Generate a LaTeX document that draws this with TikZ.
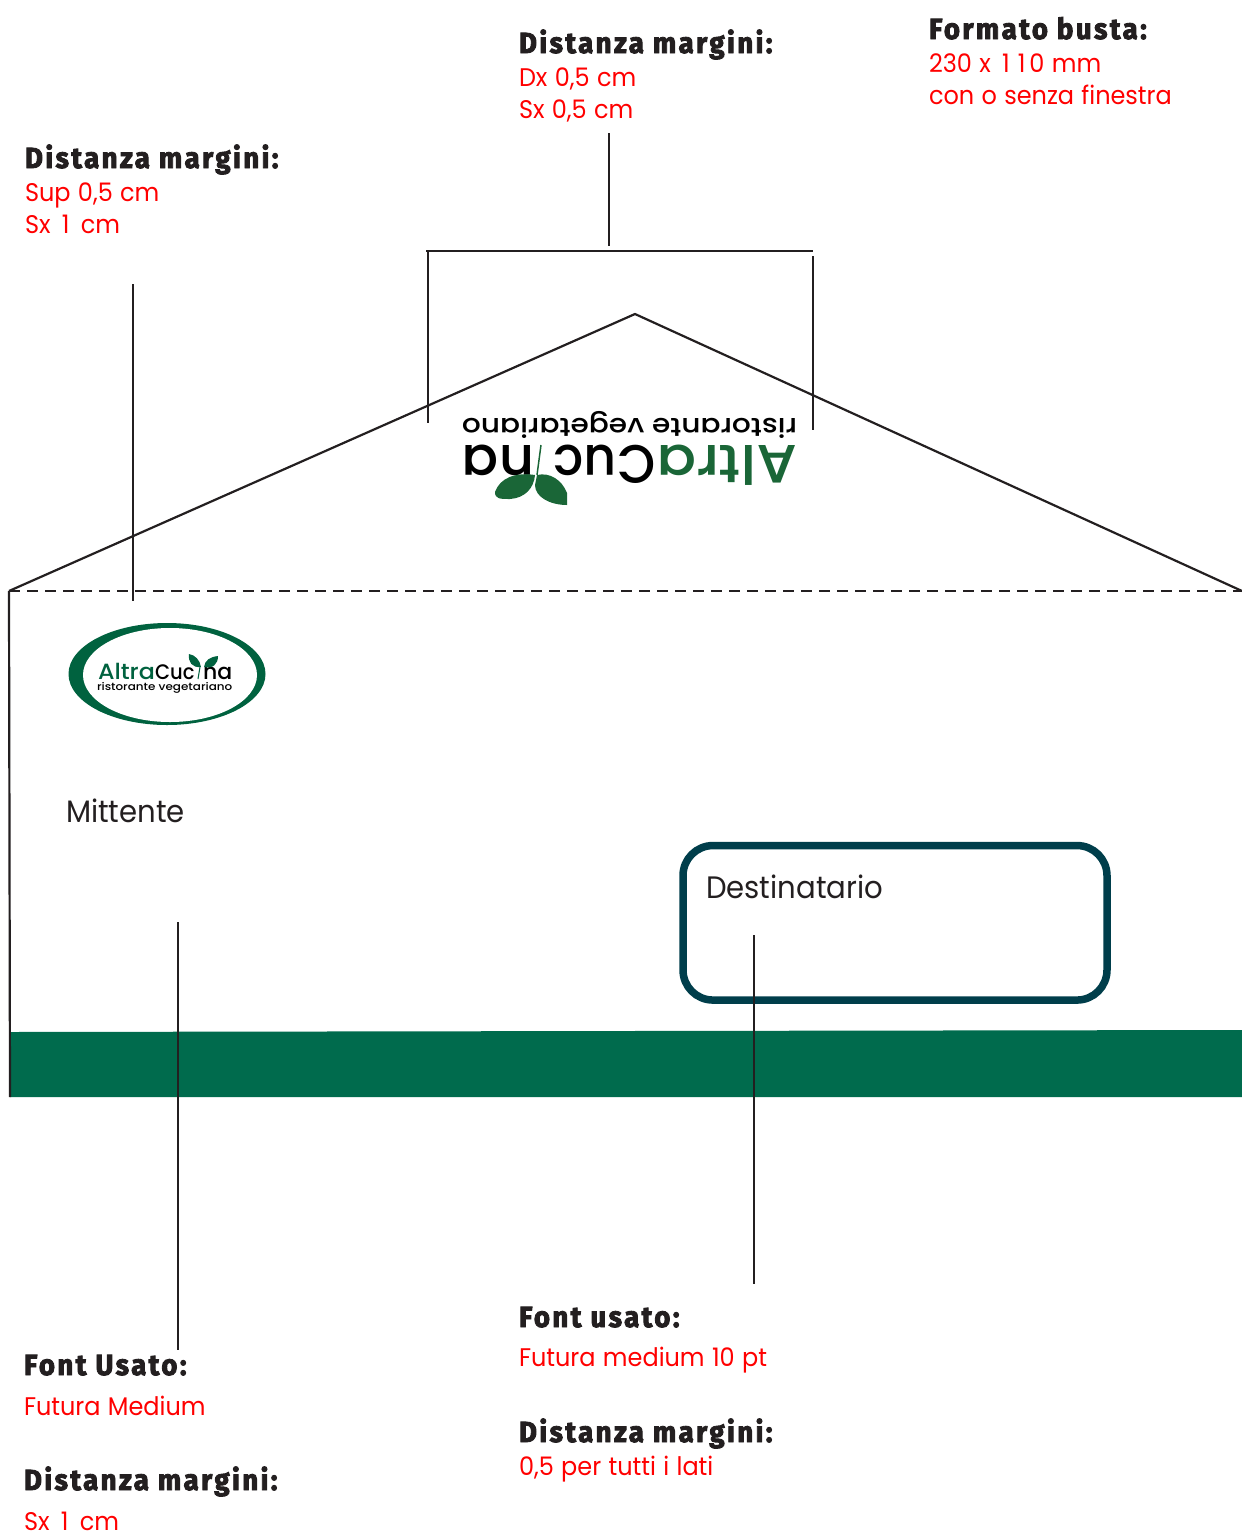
\documentclass[tikz,border=0pt]{standalone}
\usepackage{fontspec}
\usepackage{tikz}
\setmainfont{Poppins}
\newfontfamily\headfont[FakeStretch=0.95,FakeBold=3,LetterSpace=8.5]{Fira Sans Bold}
\newfontfamily\bodyfont[FakeStretch=0.94,WordSpace=1.15,Kerning=Off]{Poppins}
\newfontfamily\logofont{Poppins Medium}
\newfontfamily\logonarrow[FakeStretch=0.93]{Poppins Medium}
\newfontfamily\logowide[FakeStretch=1.08]{Poppins Medium}
\newfontfamily\logosub[FakeStretch=1.14]{Poppins Medium}
\newcommand{\onedigit}{\hspace{4pt}1\hspace{4pt}}
\definecolor{inkdark}{HTML}{231F20}
\definecolor{bandgreen}{HTML}{006B4D}
\definecolor{ovalgreen}{HTML}{00623F}
\definecolor{leafgreen}{HTML}{1A6637}
\definecolor{windowblue}{HTML}{003E4B}

\begin{document}
\begin{tikzpicture}[x=1pt,y=-1pt,inner sep=0pt,outer sep=0pt,
  leader/.style={draw=inkdark,line width=2.2pt},
  head node/.style={anchor=base west,text=inkdark,font=\headfont\fontsize{29}{30}\selectfont},
  red node/.style={anchor=base west,text=red,font=\bodyfont\fontsize{25.5}{30}\selectfont},
  plain node/.style={anchor=base west,text=inkdark,font=\bodyfont\fontsize{31}{34}\selectfont},
  leaf/.style={fill=leafgreen,draw=none}]
  \useasboundingbox (0,0) rectangle (1242,1532);

  % envelope
  \coordinate (flapL) at (9,591);
  \coordinate (flapT) at (635,314);
  \coordinate (flapR) at (1242,591);
  \coordinate (edgeB) at (10,1097);
  \fill[bandgreen] (10,1032) -- (1242,1030) -- (1242,1097) -- (edgeB) -- cycle;
  \draw[leader] (flapL) -- (flapT) -- (flapR);
  \draw[leader,dash pattern=on 11pt off 7pt] (flapL) -- (flapR);
  \draw[leader] (flapL) -- (edgeB);
  \node[draw=windowblue,line width=7.5pt,rounded corners=30pt,minimum width=424pt,minimum height=154.5pt] (window) at (895,922.8) {};

  % logo on the flap
  \node[rotate=180,anchor=base west,text=black,font=\logosub\fontsize{26}{27}\selectfont] (flapsub) at (797,418) {ristorante vegetariano};
  \node[rotate=180,anchor=base west,text=leafgreen,font=\logowide\fontsize{54}{56}\selectfont] (flapaltra) at (797,445) {Altra};
  \node[rotate=180,anchor=base west,text=black,font=\logonarrow\fontsize{54}{56}\selectfont] (flapcuc) at (655,445) {Cuc};
  \node[rotate=180,anchor=base west,text=black,font=\logofont\fontsize{54}{56}\selectfont] (flapna) at (534,445) {na};
  \fill[leaf] (535,475) .. controls (515,472) and (500,478) .. (495,492) .. controls (495,499) and (500,499) .. (510,499) .. controls (525,498) and (534,488) .. (535,475) -- cycle;
  \fill[leaf] (537,475) .. controls (550,472) and (562,480) .. (567,493) -- (567,505) .. controls (550,505) and (535,497) .. (535,485) -- cycle;
  \draw[leafgreen,line width=1.5pt] (541,445) -- (537,475);

  % logo on the front
  \fill[ovalgreen] (167,674) ellipse [x radius=98.5,y radius=51];
  \fill[white] (170,675) ellipse [x radius=87,y radius=47];
  \node[anchor=base west,text=ovalgreen,font=\logowide\fontsize{22}{23}\selectfont] (frontaltra) at (98,679) {Altra};
  \node[anchor=base west,text=black,font=\logonarrow\fontsize{21}{23}\selectfont] (frontcuc) at (155,679) {Cuc};
  \node[anchor=base west,text=black,font=\logofont\fontsize{22}{23}\selectfont] (frontna) at (203,679) {na};
  \node[anchor=base west,text=black,font=\logosub\fontsize{10.5}{11}\selectfont] (frontsub) at (97,690) {ristorante vegetariano};
  \fill[ovalgreen] (201,667) .. controls (200,660) and (195,655) .. (189,654) .. controls (188,662) and (192,668) .. (201,667) -- cycle;
  \fill[ovalgreen] (204,667) .. controls (205,660) and (210,657) .. (218,656) .. controls (218,664) and (213,669) .. (204,667) -- cycle;
  \draw[ovalgreen,line width=1pt] (200,667) -- (198,679);

  % labels on the envelope
  \node[plain node] (mittente) at (66,822) {Mittente};
  \node[plain node] (destinatario) at (706,898) {Destinatario};

  % notes
  \node[head node] (formato) at (929,39) {Formato busta:};
  \node[red node] (formatoa) at (929,72) {230 x \onedigit\onedigit{}0 mm};
  \node[red node] (formatob) at (929,104) {con o senza finestra};
  \node[head node] (topdist) at (519,53) {Distanza margini:};
  \node[red node] (topdista) at (519,86) {Dx 0,5 cm};
  \node[red node] (topdistb) at (519,118) {Sx 0,5 cm};
  \node[head node] (leftdist) at (25,168) {Distanza margini:};
  \node[red node] (leftdista) at (25,201) {Sup 0,5 cm};
  \node[red node] (leftdistb) at (25,233) {Sx \onedigit{} cm};
  \node[head node] (destfont) at (519,1327) {Font usato:};
  \node[red node] (destfonta) at (519,1366) {Futura medium 10 pt};
  \node[head node] (destdist) at (519,1442) {Distanza margini:};
  \node[red node] (destdista) at (519,1475) {0,5 per tutti i lati};
  \node[head node] (mittfont) at (24,1375) {Font Usato:};
  \node[red node] (mittfonta) at (24,1415) {Futura Medium};
  \node[head node] (mittdist) at (24,1490) {Distanza margini:};
  \node[red node] (mittdista) at (24,1530) {Sx \onedigit{} cm};

  % leaders
  \coordinate (leftup) at (133,284);
  \coordinate (leftdown) at (133,601);
  \coordinate (topup) at (609,133);
  \coordinate (topdown) at (609,246);
  \coordinate (bracketL) at (426,251);
  \coordinate (bracketR) at (813,251);
  \coordinate (legLa) at (428,251);
  \coordinate (legLb) at (428,423);
  \coordinate (legRa) at (813,256);
  \coordinate (legRb) at (813,430);
  \coordinate (mittup) at (178,922);
  \coordinate (mittdown) at (178,1350);
  \coordinate (destup) at (754,935);
  \coordinate (destdown) at (754,1284);
  \draw[leader] (leftup) -- (leftdown);
  \draw[leader] (topup) -- (topdown);
  \draw[leader] (bracketL) -- (bracketR);
  \draw[leader] (legLa) -- (legLb);
  \draw[leader] (legRa) -- (legRb);
  \draw[leader] (mittup) -- (mittdown);
  \draw[leader] (destup) -- (destdown);
\end{tikzpicture}
\end{document}
